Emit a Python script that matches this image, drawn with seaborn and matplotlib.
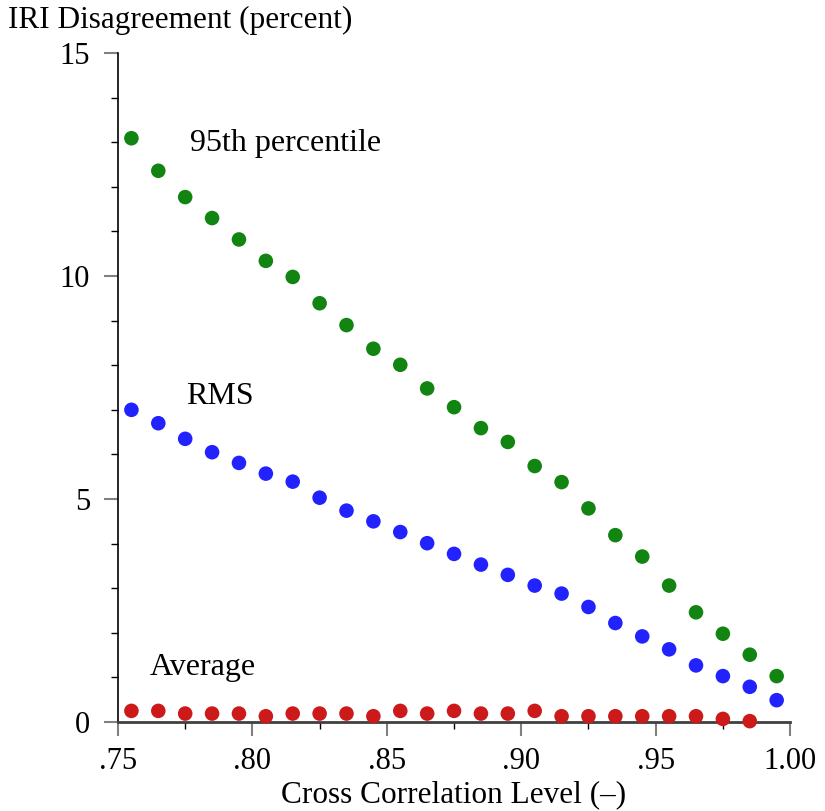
import numpy as np
import pandas as pd
import matplotlib
matplotlib.use("Agg")
import matplotlib.pyplot as plt
from matplotlib.ticker import MultipleLocator
import seaborn as sns

# --- Data ---
correlation = [0.755, 0.765, 0.775, 0.785, 0.795, 0.805, 0.815, 0.825, 0.835,
               0.845, 0.855, 0.865, 0.875, 0.885, 0.895, 0.905, 0.915, 0.925,
               0.935, 0.945, 0.955, 0.965, 0.975, 0.985, 0.995]

pct95 = [13.09, 12.36, 11.77, 11.30, 10.82, 10.34, 9.98, 9.39, 8.90, 8.37,
         8.01, 7.48, 7.06, 6.59, 6.28, 5.74, 5.38, 4.79, 4.19, 3.71,
         3.06, 2.46, 1.98, 1.51, 1.03]

rms = [7.00, 6.70, 6.35, 6.05, 5.81, 5.57, 5.39, 5.03, 4.74, 4.50,
       4.26, 4.01, 3.77, 3.53, 3.30, 3.06, 2.88, 2.58, 2.22, 1.92,
       1.63, 1.27, 1.03, 0.79, 0.49]

# the average series has no point at .995
average = [0.25, 0.25, 0.19, 0.19, 0.19, 0.13, 0.19, 0.19, 0.19, 0.13,
           0.25, 0.19, 0.25, 0.19, 0.19, 0.25, 0.13, 0.13, 0.13, 0.13,
           0.13, 0.13, 0.07, 0.02]

x_ticks = [0.75, 0.80, 0.85, 0.90, 0.95, 1.00]
x_tick_labels = [".75", ".80", ".85", ".90", ".95", "1.00"]
y_ticks = [0, 5, 10, 15]

series_names = ["95th percentile", "RMS", "Average"]

df = pd.concat([
    pd.DataFrame({"corr": correlation, "value": pct95, "series": series_names[0]}),
    pd.DataFrame({"corr": correlation, "value": rms, "series": series_names[1]}),
    pd.DataFrame({"corr": correlation[:len(average)], "value": average,
                  "series": series_names[2]}),
])

palette = {
    "95th percentile": "#128412",
    "RMS": "#2222ff",
    "Average": "#cc1a1a",
}

# --- Build the Graph ---
sns.set_style("ticks")
plt.rcParams["font.family"] = ["Liberation Serif", "DejaVu Serif"]
plt.rcParams["text.color"] = "black"
plt.rcParams["axes.labelcolor"] = "black"

fig = plt.figure(figsize=(8.25, 8.11), dpi=100)
ax = fig.add_axes([0.143, 0.1097, 0.8147, 0.8249])

sns.scatterplot(data=df, x="corr", y="value", hue="series", palette=palette,
                s=110, linewidth=0, legend=False, ax=ax, clip_on=False, zorder=3)

ax.set_xlim(0.75, 1.00)
ax.set_ylim(0, 15)

ax.set_xticks(x_ticks)
ax.set_xticklabels(x_tick_labels)
ax.set_yticks(y_ticks)
ax.xaxis.set_minor_locator(MultipleLocator(0.025))
ax.yaxis.set_minor_locator(MultipleLocator(1))

ax.tick_params(axis="both", which="major", direction="out", length=10,
               width=1.5, color="#808080", labelsize=22, labelcolor="black")
ax.tick_params(axis="both", which="minor", direction="out", length=5,
               width=1.0, color="black")
ax.tick_params(axis="y", which="major", pad=10)
ax.tick_params(axis="x", which="major", pad=8)

sns.despine(ax=ax)
ax.spines["left"].set_color("black")
ax.spines["left"].set_linewidth(1.2)
ax.spines["bottom"].set_color("#404040")
ax.spines["bottom"].set_linewidth(2)

ax.set_xlabel("Cross Correlation Level (–)", fontsize=22.5, labelpad=3,
              color="black")
ax.set_ylabel("")

# series labels placed next to the point clouds
ax.text(0.7768, 12.8, "95th percentile", fontsize=23, va="baseline")
ax.text(0.7753, 7.14, "RMS", fontsize=23, va="baseline")
ax.text(0.7619, 1.05, "Average", fontsize=23, va="baseline")

fig.text(0.01, 0.9655, "IRI Disagreement (percent)", fontsize=22.5,
         va="baseline", ha="left")

fig.savefig("out.png", dpi=100)
